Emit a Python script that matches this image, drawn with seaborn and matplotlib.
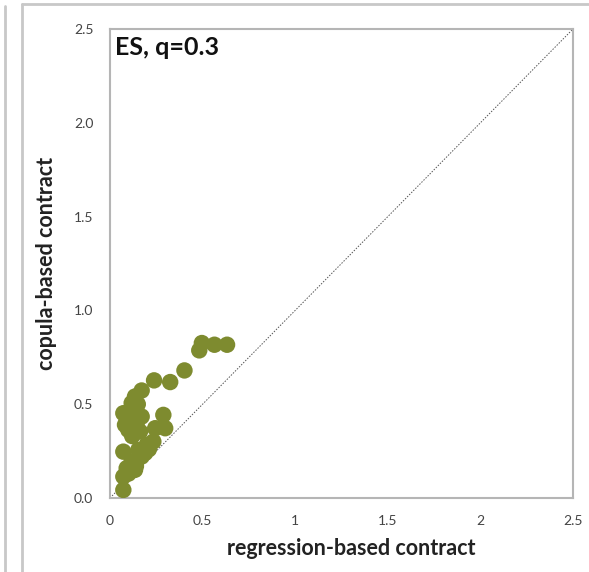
import matplotlib
matplotlib.use("Agg")
import matplotlib.pyplot as plt
from matplotlib.lines import Line2D
import seaborn as sns
import pandas as pd

regression_based = [0.496, 0.482, 0.564, 0.632, 0.402, 0.325, 0.238, 0.171, 0.135, 0.117,
                    0.072, 0.135, 0.171, 0.288, 0.081, 0.144, 0.099, 0.162, 0.244, 0.298,
                    0.072, 0.153, 0.198, 0.234, 0.171, 0.117, 0.090, 0.072, 0.135, 0.072,
                    0.100, 0.150, 0.120, 0.210, 0.190, 0.100, 0.140]
copula_based = [0.826, 0.787, 0.817, 0.817, 0.680, 0.618, 0.627, 0.573, 0.541, 0.506,
                0.452, 0.461, 0.434, 0.443, 0.390, 0.399, 0.363, 0.354, 0.372, 0.372,
                0.247, 0.256, 0.283, 0.301, 0.221, 0.194, 0.159, 0.114, 0.150, 0.043,
                0.450, 0.500, 0.330, 0.260, 0.240, 0.130, 0.170]
x_ticks = [0, 0.5, 1, 1.5, 2, 2.5]
x_tick_labels = ["0", "0.5", "1", "1.5", "2", "2.5"]
y_ticks = [0.0, 0.5, 1.0, 1.5, 2.0, 2.5]
y_tick_labels = ["0.0", "0.5", "1.0", "1.5", "2.0", "2.5"]
title_text = "ES, q=0.3"
x_label = "regression-based contract"
y_label = "copula-based contract"

df = pd.DataFrame({"reg": regression_based, "cop": copula_based})

sns.set_style("white")
plt.rcParams["font.family"] = ["Lato", "DejaVu Sans"]

fig = plt.figure(figsize=(5.89, 5.72), dpi=100)
ax = fig.add_axes([110/589, 1-498/572, (573-110)/589, (498-29)/572])

ax.plot([0, 2.5], [0, 2.5], linestyle=(0, (1.5, 1.5)), color="#555555", linewidth=0.7, zorder=1)
sns.scatterplot(data=df, x="reg", y="cop", ax=ax, s=140, color="#7E8B2F",
                edgecolor="none", linewidth=0, zorder=3)

ax.set_xlim(0, 2.5)
ax.set_ylim(0, 2.5)
ax.set_xticks(x_ticks)
ax.set_xticklabels(x_tick_labels)
ax.set_yticks(y_ticks)
ax.set_yticklabels(y_tick_labels)
ax.tick_params(axis="both", direction="out", length=4, width=1, color="#b0b0b0",
               labelsize=10, labelcolor="#444444", pad=8)
for sp in ax.spines.values():
    sp.set_color("#b5b5b5")
    sp.set_linewidth(1.5)
ax.set_xlabel(x_label, fontsize=15.5, fontweight="bold", color="#222222", labelpad=10)
ax.xaxis.set_label_coords(0.52, -0.085)
ax.set_ylabel(y_label, fontsize=15.5, fontweight="bold", color="#222222", labelpad=12)
ax.text(0.01, 0.985, title_text, transform=ax.transAxes, ha="left", va="top",
        fontsize=18, fontweight="bold", color="#111111")

# outer chart frame and neighbouring panel edge
fig.add_artist(Line2D([22/589, 22/589], [0, 1-4/572], transform=fig.transFigure,
                      color="#c8c8c8", linewidth=2))
fig.add_artist(Line2D([22/589, 1], [1-4/572, 1-4/572], transform=fig.transFigure,
                      color="#c8c8c8", linewidth=2))
fig.add_artist(Line2D([5/589, 5/589], [0, 1-6/572], transform=fig.transFigure,
                      color="#c8c8c8", linewidth=2))

fig.savefig("out.png", dpi=100)
